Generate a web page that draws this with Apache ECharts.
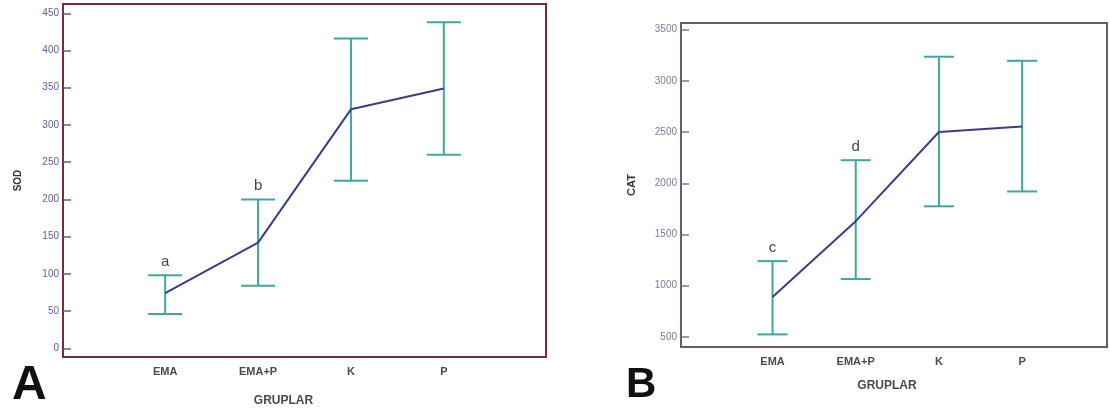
<!DOCTYPE html>
<html>
<head>
<meta charset="utf-8">
<script src="https://cdn.jsdelivr.net/npm/echarts@6/dist/echarts.min.js"></script>
<style>
  html, body { margin: 0; padding: 0; background: #fff; }
  #main { width: 1110px; height: 413px; }
</style>
</head>
<body>
<div id="main"></div>
<script>
// gruplar
var groups = ['EMA', 'EMA+P', 'K', 'P'];

// panel A - SOD (ortalama, alt, ust)
var sodMean = [74, 142, 321, 349];
var sodLow = [46, 84, 225, 260];
var sodHigh = [98, 200, 416, 438];
var sodLetters = ['a', 'b', '', ''];
var sodTicks = [0, 50, 100, 150, 200, 250, 300, 350, 400, 450];

// panel B - CAT
var catMean = [890, 1630, 2500, 2555];
var catLow = [525, 1065, 1775, 1920];
var catHigh = [1240, 2225, 3235, 3195];
var catLetters = ['c', 'd', '', ''];
var catTicks = [500, 1000, 1500, 2000, 2500, 3000, 3500];

var chart = echarts.init(document.getElementById('main'), null, { renderer: 'canvas' });

function lineData(mean) {
  return mean.map(function (v, i) { return [i, v]; });
}
function barData(low, high) {
  return low.map(function (v, i) { return [i, v, high[i]]; });
}
function letterData(letters, high) {
  var out = [];
  letters.forEach(function (l, i) {
    if (l) out.push([i, high[i], l]);
  });
  return out;
}

// hata cubugu
function errorBar(halfW) {
  return function (params, api) {
    var x = api.value(0);
    var top = api.coord([x, api.value(2)]);
    var bot = api.coord([x, api.value(1)]);
    var st = { stroke: '#3fa89c', lineWidth: 2 };
    return {
      type: 'group',
      children: [
        { type: 'line', shape: { x1: top[0], y1: top[1], x2: bot[0], y2: bot[1] }, style: st },
        { type: 'line', shape: { x1: top[0] - halfW, y1: top[1], x2: top[0] + halfW, y2: top[1] }, style: st },
        { type: 'line', shape: { x1: bot[0] - halfW, y1: bot[1], x2: bot[0] + halfW, y2: bot[1] }, style: st }
      ]
    };
  };
}

function xAxisOf(idx, max, nameGap, pad) {
  return {
    type: 'value', gridIndex: idx, min: -1.1, max: max,
    name: 'GRUPLAR', nameLocation: 'middle', nameGap: nameGap,
    nameTextStyle: { color: '#4a4a4a', fontSize: 12, fontWeight: 'bold', fontFamily: 'Arial', padding: pad },
    axisLine: { show: false, onZero: false },
    axisTick: { show: false },
    splitLine: { show: false },
    axisLabel: {
      customValues: [0, 1, 2, 3],
      formatter: function (v) { return groups[Math.round(v)]; },
      color: '#4a4a4a', fontSize: 11, fontWeight: 'bold', fontFamily: 'Arial', margin: 9
    }
  };
}

function yAxisOf(idx, min, max, ticks, name, nameGap, lblColor, nameSize) {
  return {
    type: 'value', gridIndex: idx, min: min, max: max,
    name: name, nameLocation: 'middle', nameRotate: 90, nameGap: nameGap,
    nameTextStyle: { color: '#333', fontSize: nameSize, fontWeight: 'bold', fontFamily: 'Arial' },
    axisLine: { show: false, onZero: false },
    splitLine: { show: false },
    axisTick: { show: true, inside: true, length: 8, customValues: ticks, lineStyle: { color: lblColor, width: 1.5 } },
    axisLabel: {
      customValues: ticks, color: lblColor, fontSize: 10, fontFamily: 'Arial', margin: 4,
      formatter: function (v) { return String(v); }
    }
  };
}

var option = {
  backgroundColor: '#fff',
  animation: false,
  grid: [
    { left: 63, top: 4, width: 483, height: 353, show: true, borderColor: '#7a2a38', borderWidth: 2, backgroundColor: '#fff' },
    { left: 681, top: 23, width: 426, height: 324, show: true, borderColor: '#6e5c5e', borderWidth: 2, backgroundColor: '#fff' }
  ],
  xAxis: [
    xAxisOf(0, 4.1, 38, [0, 42, 0, 0]),
    xAxisOf(1, 4.02, 33, [0, 14, 0, 0])
  ],
  yAxis: [
    yAxisOf(0, -11.7, 462.5, sodTicks, 'SOD', 40, '#5c5c9c', 10),
    yAxisOf(1, 402, 3564, catTicks, 'CAT', 44, '#7a7a98', 11)
  ],
  graphic: [
    { type: 'text', left: 12, top: 362, style: { text: 'A', fontSize: 48, fontWeight: 'bold', fontFamily: 'Arial', fill: '#111' } },
    { type: 'text', left: 626, top: 364, style: { text: 'B', fontSize: 42, fontWeight: 'bold', fontFamily: 'Arial', fill: '#111' } }
  ],
  series: [
    { type: 'custom', xAxisIndex: 0, yAxisIndex: 0, renderItem: errorBar(17), data: barData(sodLow, sodHigh), z: 2 },
    { type: 'line', xAxisIndex: 0, yAxisIndex: 0, data: lineData(sodMean), symbol: 'none',
      lineStyle: { color: '#3c3c8c', width: 2 }, z: 3 },
    { type: 'scatter', xAxisIndex: 0, yAxisIndex: 0, data: letterData(sodLetters, sodHigh), symbolSize: 0,
      label: { show: true, position: 'top', distance: 6, formatter: function (p) { return p.data[2]; },
        color: '#111', fontSize: 15, fontFamily: 'Arial' } },
    { type: 'custom', xAxisIndex: 1, yAxisIndex: 1, renderItem: errorBar(15), data: barData(catLow, catHigh), z: 2 },
    { type: 'line', xAxisIndex: 1, yAxisIndex: 1, data: lineData(catMean), symbol: 'none',
      lineStyle: { color: '#3c3c8c', width: 2 }, z: 3 },
    { type: 'scatter', xAxisIndex: 1, yAxisIndex: 1, data: letterData(catLetters, catHigh), symbolSize: 0,
      label: { show: true, position: 'top', distance: 6, formatter: function (p) { return p.data[2]; },
        color: '#111', fontSize: 15, fontFamily: 'Arial' } }
  ]
};

chart.setOption(option);
</script>
</body>
</html>
